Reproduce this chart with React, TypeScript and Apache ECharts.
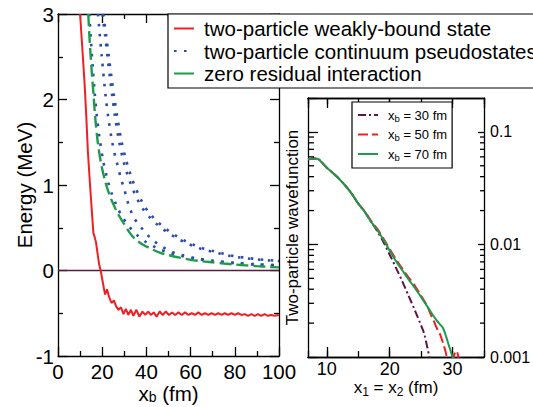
import React, { useEffect, useRef } from "react";
import * as echarts from "echarts";

const FONT = "'Liberation Sans', Arial, Helvetica, sans-serif";

// ---------- main panel: energy vs x_b ----------
const mainXRange = [0, 100];
const mainYRange = [-1, 3];

// two-particle weakly-bound state (red)
const boundX = [10, 11, 12, 12.8, 13.5, 14.5, 15.3, 16, 16.6, 17.2, 18, 18.7, 19.3, 20, 20.7, 21.3, 22.2, 23, 24.2, 25.3, 26.3, 27.4, 28.5, 29.6, 30.7, 31.8, 33, 34.1, 35.5, 36.8, 38.2, 39.5, 40.8, 42, 43.3, 44.6, 46, 47.4, 48.8, 50.2, 51.6, 53, 54.5, 56, 57.5, 59, 60.5, 62, 63.5, 65, 66.5, 68, 69.5, 71, 72.5, 74, 75.5, 77, 78.5, 80, 81.5, 83, 84.5, 86, 87.5, 89, 90.5, 92, 93.5, 95, 96.5, 98, 100];
const boundE = [3.0, 2.6, 2.2, 1.8, 1.4, 1.0, 0.7, 0.44, 0.39, 0.33, 0.18, 0.06, 0, -0.1, -0.2, -0.28, -0.22, -0.3, -0.38, -0.35, -0.42, -0.46, -0.43, -0.51, -0.45, -0.52, -0.46, -0.53, -0.46, -0.54, -0.48, -0.52, -0.48, -0.52, -0.49, -0.54, -0.48, -0.52, -0.48, -0.52, -0.49, -0.52, -0.49, -0.52, -0.49, -0.52, -0.5, -0.52, -0.49, -0.52, -0.5, -0.52, -0.5, -0.52, -0.5, -0.52, -0.5, -0.52, -0.5, -0.52, -0.5, -0.52, -0.51, -0.53, -0.51, -0.53, -0.51, -0.53, -0.51, -0.53, -0.52, -0.53, -0.52];

// zero residual interaction (green dashed)
const zeroResX = [13.7, 14.2, 14.8, 15.4, 16.1, 16.8, 18, 19.5, 21.5, 23.5, 25.5, 27, 30, 32.5, 34.8, 38.5, 42, 46, 50, 55, 60, 65, 70, 75, 80, 85, 90, 95, 100];
const zeroResE = [3.0, 2.75, 2.5, 2.28, 2.05, 1.8, 1.5, 1.25, 1.03, 0.87, 0.75, 0.67, 0.54, 0.44, 0.37, 0.30, 0.255, 0.21, 0.18, 0.15, 0.125, 0.108, 0.095, 0.082, 0.07, 0.06, 0.051, 0.043, 0.036];

// two-particle continuum pseudostates (blue dotted)
const cont1X = [14.2, 15, 15.8, 16.6, 17.6, 18.8, 20.3, 22.2, 24.3, 26.5, 29, 32, 35.5, 40, 45, 50, 56, 62, 70, 80, 90, 100];
const cont1E = [3.0, 2.65, 2.35, 2.08, 1.8, 1.55, 1.3, 1.08, 0.9, 0.76, 0.63, 0.52, 0.42, 0.33, 0.26, 0.21, 0.17, 0.14, 0.11, 0.085, 0.068, 0.055];
const cont2X = [18.1, 19.8, 21.6, 22.8, 24.4, 26.1, 27.3, 28.4, 29.9, 31.1, 32.6, 34.5, 37.1, 40.1, 43.4, 47, 51.4, 56, 62, 70, 80, 90, 100];
const cont2E = [3.0, 2.5, 2.03, 1.78, 1.52, 1.31, 1.2, 1.08, 0.96, 0.84, 0.72, 0.61, 0.52, 0.427, 0.345, 0.28, 0.22, 0.18, 0.145, 0.115, 0.09, 0.073, 0.062];
const cont3X = [20.1, 21.3, 22.4, 23.5, 24.6, 25.8, 27.5, 29.3, 30.6, 32.1, 33.7, 35.6, 37.9, 40.9, 43.9, 47.4, 51.4, 55.2, 59.4, 63.9, 68.5, 73, 77.8, 82.4, 86.9, 91.4, 95.9, 100];
const cont3E = [3.0, 2.75, 2.5, 2.26, 2.03, 1.8, 1.53, 1.31, 1.19, 1.07, 0.96, 0.85, 0.74, 0.64, 0.56, 0.485, 0.415, 0.357, 0.306, 0.26, 0.228, 0.2, 0.17, 0.152, 0.138, 0.126, 0.117, 0.11];
const cont4X = [20.5, 21.8, 23.0, 24.2, 25.4, 26.8, 28.6, 30.6, 32.0, 33.5, 35.2, 37.1, 39.4, 42.4, 45.4, 48.9, 52.9, 56.7, 60.9, 65.4, 70, 74.5, 79.3, 83.9, 88.4, 92.9, 97.4, 100];
const cont4E = [3.0, 2.75, 2.5, 2.26, 2.03, 1.8, 1.53, 1.31, 1.19, 1.07, 0.96, 0.85, 0.74, 0.64, 0.56, 0.485, 0.415, 0.357, 0.306, 0.26, 0.228, 0.2, 0.17, 0.152, 0.138, 0.126, 0.117, 0.113];

const zeroLineX = [0, 100];
const zeroLineE = [0, 0];

const mainNames = [
  "two-particle weakly-bound state",
  "two-particle continuum pseudostates",
  "zero residual interaction",
];

// ---------- inset: wavefunction vs x1 = x2 ----------
const insetXRange = [7, 35];
const insetYRange = [0.001, 0.2];
const insetMinorTicks = [0.002, 0.003, 0.004, 0.005, 0.006, 0.007, 0.008, 0.009, 0.02, 0.03, 0.04, 0.05, 0.06, 0.07, 0.08, 0.09];

const wf30X = [7, 8, 8.6, 9, 10, 11, 12, 13, 14, 15, 16, 17, 18, 19, 20, 21, 22, 23, 24, 25, 25.5, 26, 26.3, 26.7];
const wf30 = [0.057, 0.058, 0.0575, 0.055, 0.048, 0.043, 0.038, 0.033, 0.028, 0.023, 0.0196, 0.016, 0.0132, 0.0105, 0.0081, 0.0062, 0.0047, 0.0035, 0.0026, 0.0019, 0.0016, 0.0012, 0.001, 0.0007];
const wf50X = [7, 8, 8.6, 9, 10, 11, 12, 13, 14, 15, 16, 17, 18, 19, 20, 21, 22, 23, 24, 25, 26, 26.5, 27, 27.5, 28, 28.5, 29, 29.4, 29.8, 30.2, 30.6, 31, 31.4];
const wf50 = [0.057, 0.058, 0.0575, 0.055, 0.048, 0.043, 0.038, 0.033, 0.028, 0.0232, 0.0198, 0.0163, 0.0138, 0.0113, 0.0091, 0.0074, 0.0061, 0.0051, 0.0043, 0.0035, 0.0028, 0.0024, 0.0021, 0.0018, 0.0016, 0.00132, 0.00105, 0.0007, 0.0006, 0.00102, 0.00113, 0.00095, 0.0006];
const wf70X = [7, 8, 8.6, 9, 10, 11, 12, 13, 14, 15, 16, 17, 18, 19, 20, 21, 22, 23, 24, 25, 26, 27, 27.5, 28, 28.5, 29, 29.5, 30, 30.5];
const wf70 = [0.057, 0.058, 0.0575, 0.055, 0.048, 0.043, 0.038, 0.033, 0.028, 0.023, 0.0195, 0.016, 0.0135, 0.011, 0.0088, 0.0071, 0.0059, 0.0049, 0.0041, 0.0034, 0.0028, 0.0023, 0.0021, 0.00195, 0.0018, 0.0015, 0.00122, 0.001, 0.0008];

const insetNames = ["xb = 30 fm", "xb = 50 fm", "xb = 70 fm"];

const pairs = (xs: number[], ys: number[]) => xs.map((x, i) => [x, ys[i]]);

const BLACK = "#000";
const lineStyleAxis = { color: BLACK, width: 1.3 };
const tickLine = { color: BLACK, width: 1.3 };

function buildOption(): any {
  const mainX = (pos: string) => ({
    type: "value",
    gridIndex: 0,
    position: pos,
    min: mainXRange[0],
    max: mainXRange[1],
    interval: 20,
    axisLine: { show: true, onZero: false, lineStyle: lineStyleAxis },
    axisTick: { show: true, inside: true, length: 9, lineStyle: tickLine },
    minorTick: { show: true, splitNumber: 2, length: 5, lineStyle: tickLine },
    splitLine: { show: false },
    minorSplitLine: { show: false },
    axisLabel:
      pos === "bottom"
        ? { show: true, fontSize: 20.5, fontFamily: FONT, color: BLACK, margin: 5, showMinLabel: true, showMaxLabel: true }
        : { show: false },
    ...(pos === "bottom"
      ? {
          name: "x{sub|b} (fm)",
          nameLocation: "middle",
          nameGap: 26,
          nameMoveOverlap: false,
          nameTextStyle: {
            fontSize: 20.5,
            fontFamily: FONT,
            color: BLACK,
            lineHeight: 22,
            verticalAlign: "top",
            rich: { sub: { fontSize: 14, lineHeight: 10, verticalAlign: "bottom", fontFamily: FONT, color: BLACK } },
          },
        }
      : {}),
  });
  const mainY = (pos: string) => ({
    type: "value",
    gridIndex: 0,
    position: pos,
    min: mainYRange[0],
    max: mainYRange[1],
    interval: 1,
    axisLine: { show: true, onZero: false, lineStyle: lineStyleAxis },
    axisTick: { show: true, inside: true, length: 9, lineStyle: tickLine },
    minorTick: { show: true, splitNumber: 2, length: 5, lineStyle: tickLine },
    splitLine: { show: false },
    minorSplitLine: { show: false },
    axisLabel:
      pos === "left"
        ? { show: true, fontSize: 20.5, fontFamily: FONT, color: BLACK, margin: 4, showMinLabel: true, showMaxLabel: true }
        : { show: false },
    ...(pos === "left"
      ? {
          name: "Energy (MeV)",
          nameLocation: "middle",
          nameRotate: 90,
          nameGap: 23,
          nameMoveOverlap: false,
          nameTextStyle: { fontSize: 20.5, fontFamily: FONT, color: BLACK },
        }
      : {}),
  });

  const insetX = (pos: string, step: number, len: number, withLabels: boolean) => ({
    type: "value",
    gridIndex: 1,
    position: pos,
    min: insetXRange[0],
    max: insetXRange[1],
    splitNumber: step === 10 ? 3 : 6,
    minInterval: step,
    maxInterval: step,
    axisLine: { show: true, onZero: false, lineStyle: lineStyleAxis },
    axisTick: { show: true, inside: true, length: len, lineStyle: tickLine },
    splitLine: { show: false },
    axisLabel: withLabels
      ? {
          show: true,
          fontSize: 18,
          fontFamily: FONT,
          color: BLACK,
          margin: 3,
          showMinLabel: false,
          showMaxLabel: false,
          formatter: (v: number) => (Math.abs(v % 10) < 1e-9 ? String(v) : ""),
        }
      : { show: false },
    ...(withLabels
      ? {
          name: "x{sub|1} = x{sub|2} (fm)",
          nameLocation: "middle",
          nameGap: 20,
          nameMoveOverlap: false,
          nameTextStyle: {
            fontSize: 17,
            fontFamily: FONT,
            color: BLACK,
            lineHeight: 21,
            verticalAlign: "top",
            rich: { sub: { fontSize: 12, lineHeight: 12, verticalAlign: "bottom", fontFamily: FONT, color: BLACK } },
          },
        }
      : {}),
  });

  const insetY = (pos: string) => ({
    type: "log",
    logBase: 10,
    gridIndex: 1,
    position: pos,
    min: insetYRange[0],
    max: insetYRange[1],
    axisLine: { show: true, onZero: false, lineStyle: lineStyleAxis },
    axisTick: { show: true, inside: true, length: pos === "left" ? 10 : 6, lineStyle: tickLine },
    splitLine: { show: false },
    axisLabel:
      pos === "right"
        ? { show: true, fontSize: 16, fontFamily: FONT, color: BLACK, margin: 6, showMinLabel: true, showMaxLabel: false }
        : { show: false },
    ...(pos === "left"
      ? {
          name: "Two-particle wavefunction",
          nameLocation: "middle",
          nameRotate: 90,
          nameGap: 7,
          nameMoveOverlap: false,
          nameTextStyle: { fontSize: 17, fontFamily: FONT, color: BLACK },
        }
      : {}),
  });

  const blueStyle = { color: "#2B4DA8", width: 2.6, type: [2.6, 7.4], cap: "butt" };
  const lineBase = {
    type: "line",
    symbol: "none",
    showSymbol: false,
    emphasis: { disabled: true },
    animation: false,
    silent: true,
  };

  const mainSeries = [
    {
      ...lineBase,
      name: "zero",
      xAxisIndex: 0,
      yAxisIndex: 0,
      z: 1,
      data: pairs(zeroLineX, zeroLineE),
      lineStyle: { color: "#5B1B3F", width: 1.5 },
    },
    ...[
      [cont1X, cont1E],
      [cont2X, cont2E],
      [cont3X, cont3E],
      [cont4X, cont4E],
    ].map(([xs, es]) => ({
      ...lineBase,
      name: mainNames[1],
      xAxisIndex: 0,
      yAxisIndex: 0,
      z: 2,
      smooth: 0.3,
      data: pairs(xs, es),
      itemStyle: { color: "#2B4DA8" },
      lineStyle: blueStyle,
    })),
    {
      ...lineBase,
      name: mainNames[2],
      xAxisIndex: 0,
      yAxisIndex: 0,
      z: 3,
      smooth: 0.3,
      data: pairs(zeroResX, zeroResE),
      itemStyle: { color: "#1D9A4B" },
      lineStyle: { color: "#1D9A4B", width: 2.4, type: [12, 5] },
    },
    {
      ...lineBase,
      name: mainNames[0],
      xAxisIndex: 0,
      yAxisIndex: 0,
      z: 4,
      data: pairs(boundX, boundE),
      itemStyle: { color: "#EE2024" },
      lineStyle: { color: "#EE2024", width: 2 },
    },
  ];

  const insetSeries = [
    {
      ...lineBase,
      name: insetNames[0],
      xAxisIndex: 2,
      yAxisIndex: 2,
      z: 2,
      smooth: 0.3,
      data: pairs(wf30X, wf30),
      itemStyle: { color: "#5E1349" },
      lineStyle: { color: "#5E1349", width: 2, type: [8, 3, 2, 3] },
    },
    {
      ...lineBase,
      name: insetNames[1],
      xAxisIndex: 2,
      yAxisIndex: 2,
      z: 3,
      smooth: 0.3,
      data: pairs(wf50X, wf50),
      itemStyle: { color: "#EE2024" },
      lineStyle: { color: "#EE2024", width: 2, type: [10, 4] },
    },
    {
      ...lineBase,
      name: insetNames[2],
      xAxisIndex: 2,
      yAxisIndex: 2,
      z: 4,
      smooth: 0.3,
      data: pairs(wf70X, wf70),
      itemStyle: { color: "#1D9A4B" },
      lineStyle: { color: "#1D9A4B", width: 2 },
    },
    {
      type: "custom",
      xAxisIndex: 2,
      yAxisIndex: 2,
      z: 5,
      silent: true,
      animation: false,
      data: insetMinorTicks.map((v) => [insetXRange[0], v]),
      renderItem: (params: any, api: any) => {
        const v = api.value(1);
        const l = api.coord([insetXRange[0], v]);
        const r = api.coord([insetXRange[1], v]);
        return {
          type: "group",
          children: [
            { type: "line", shape: { x1: l[0], y1: l[1], x2: l[0] + 6, y2: l[1] }, style: { stroke: BLACK, lineWidth: 1.3 } },
            { type: "line", shape: { x1: r[0] - 4, y1: r[1], x2: r[0], y2: r[1] }, style: { stroke: BLACK, lineWidth: 1.3 } },
          ],
        };
      },
    },
  ];

  return {
    animation: false,
    backgroundColor: "#fff",
    textStyle: { fontFamily: FONT },
    grid: [
      { left: 58, top: 14, width: 221, height: 342, containLabel: false, outerBoundsMode: "none" },
      { left: 308, top: 98, width: 176, height: 259, containLabel: false, outerBoundsMode: "none" },
    ],
    xAxis: [
      mainX("bottom"),
      mainX("top"),
      insetX("bottom", 10, 10, true),
      insetX("bottom", 5, 6, false),
      insetX("top", 10, 10, false),
      insetX("top", 5, 6, false),
    ],
    yAxis: [mainY("left"), mainY("right"), insetY("left"), insetY("right")],
    legend: [
      {
        orient: "vertical",
        left: 168,
        top: 14,
        padding: [4, 5, 4, 5],
        itemGap: 1.5,
        itemWidth: 20,
        itemHeight: 12,
        backgroundColor: "#fff",
        borderColor: BLACK,
        borderWidth: 1.2,
        borderRadius: 0,
        selectedMode: false,
        itemStyle: { opacity: 0 },
        textStyle: { fontSize: 20.5, fontFamily: FONT, color: BLACK, lineHeight: 21, padding: [0, 0, 0, 5] },
        data: [mainNames[0], mainNames[1], { name: mainNames[2], lineStyle: { type: "solid" } }],
      },
      {
        orient: "vertical",
        left: 352,
        top: 102,
        padding: [5, 5, 6, 5],
        itemGap: 3.5,
        itemWidth: 20,
        itemHeight: 10,
        backgroundColor: "#fff",
        borderColor: BLACK,
        borderWidth: 1.2,
        borderRadius: 0,
        selectedMode: false,
        itemStyle: { opacity: 0 },
        formatter: (n: string) => n.replace("xb", "x{sub|b}"),
        textStyle: {
          fontSize: 13,
          fontFamily: FONT,
          color: BLACK,
          lineHeight: 16,
          padding: [0, 0, 0, 5],
          rich: { sub: { fontSize: 9.5, lineHeight: 10, verticalAlign: "bottom", fontFamily: FONT, color: BLACK } },
        },
        data: insetNames,
      },
    ],
    series: [...mainSeries, ...insetSeries],
  };
}

export default function App() {
  const ref = useRef<HTMLDivElement>(null);
  useEffect(() => {
    if (!ref.current) return;
    const chart = echarts.init(ref.current, null, { renderer: "svg" });
    chart.setOption(buildOption());
    return () => chart.dispose();
  }, []);
  return (
    <div
      ref={ref}
      style={{ position: "fixed", left: 0, top: 0, width: 533, height: 407, background: "#fff" }}
    />
  );
}
